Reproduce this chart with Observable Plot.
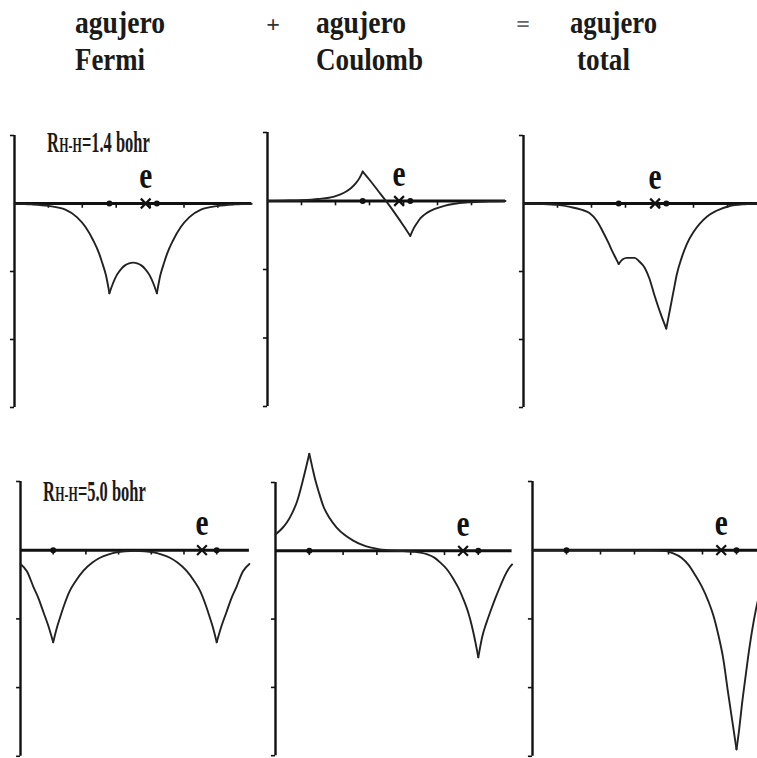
<!DOCTYPE html>
<html><head><meta charset="utf-8">
<script src="https://cdn.jsdelivr.net/npm/d3@7"></script>
<script src="https://cdn.jsdelivr.net/npm/@observablehq/plot@0.6"></script>
<style>
html,body{margin:0;padding:0;background:#fff;}
#fig{position:relative;width:757px;height:758px;overflow:hidden;background:#fff;}
</style>
</head><body><div id="fig"></div>
<script>
// ---------- data (x in bohr from bond midpoint, y in axis-tick units) ----------
const headerTop = ["agujero", "agujero", "agujero"];
const headerBottom = ["Fermi", "Coulomb", "total"];
const operators = ["+", "="];
const distances = ["1.4", "5.0"];

const xTicks = [-2.5, -1.5, -0.5, 0.5, 1.5, 2.5];
const yTicks = [1, -1, -2, -3];

const nucleiR14 = [-0.7, 0.7];
const nucleiR50 = [-2.5, 2.5];
const electronR14 = 0.37;
const electronR50 = 2.05;

const fermiR14 = [[-3.5,-0.005],[-3.0,-0.013],[-2.5,-0.035],[-2.0,-0.09],[-1.66,-0.2],[-1.4,-0.35],[-1.18,-0.54],[-1.0,-0.74],[-0.92,-0.86],[-0.8,-1.06],[-0.7,-1.32],[-0.6,-1.18],[-0.48,-1.05],[-0.35,-0.96],[-0.24,-0.91],[-0.12,-0.88],[0,-0.87],[0.12,-0.88],[0.24,-0.91],[0.35,-0.96],[0.48,-1.05],[0.6,-1.18],[0.7,-1.32],[0.8,-1.06],[0.92,-0.86],[1.0,-0.74],[1.18,-0.54],[1.4,-0.35],[1.66,-0.2],[2.0,-0.09],[2.5,-0.035],[3.0,-0.013],[3.5,-0.005]];
const fermiR14Cusps = [-0.7, 0.7];

const coulombR14 = [[-3.5,0],[-3.0,0.005],[-2.5,0.012],[-2.0,0.03],[-1.54,0.065],[-1.25,0.12],[-1.04,0.19],[-0.9,0.26],[-0.8,0.33],[-0.7,0.43],[-0.5,0.31],[-0.25,0.15],[0,-0.01],[0.25,-0.18],[0.5,-0.36],[0.7,-0.51],[0.8,-0.40],[0.9,-0.32],[1.0,-0.25],[1.2,-0.17],[1.4,-0.12],[1.7,-0.07],[2.0,-0.04],[2.4,-0.02],[3.0,-0.006],[3.5,0]];
const coulombR14Cusps = [-0.7, 0.7];

const totalR14 = [[-3.5,0],[-3.0,-0.005],[-2.5,-0.02],[-2.13,-0.05],[-1.8,-0.09],[-1.56,-0.14],[-1.35,-0.25],[-1.18,-0.40],[-1.0,-0.58],[-0.89,-0.70],[-0.8,-0.79],[-0.7,-0.89],[-0.58,-0.82],[-0.46,-0.80],[-0.23,-0.80],[-0.1,-0.85],[0.06,-0.94],[0.2,-1.10],[0.34,-1.33],[0.54,-1.63],[0.7,-1.84],[0.82,-1.53],[0.92,-1.27],[1.01,-1.04],[1.15,-0.80],[1.3,-0.60],[1.5,-0.42],[1.68,-0.30],[1.9,-0.19],[2.16,-0.11],[2.54,-0.04],[3.0,-0.01],[3.5,0]];
const totalR14Cusps = [-0.7, 0.7];

const fermiR50 = [[-3.5,-0.2],[-3.3,-0.31],[-3.1,-0.54],[-2.95,-0.7],[-2.8,-0.9],[-2.65,-1.1],[-2.5,-1.34],[-2.4,-1.15],[-2.29,-0.98],[-2.15,-0.78],[-2.0,-0.6],[-1.8,-0.44],[-1.58,-0.3],[-1.3,-0.18],[-1.07,-0.11],[-0.8,-0.06],[-0.56,-0.03],[-0.3,-0.015],[0,-0.01],[0.3,-0.015],[0.56,-0.03],[0.8,-0.06],[1.07,-0.11],[1.3,-0.18],[1.58,-0.3],[1.8,-0.44],[2.0,-0.6],[2.15,-0.78],[2.29,-0.98],[2.4,-1.15],[2.5,-1.34],[2.65,-1.1],[2.8,-0.9],[2.95,-0.7],[3.1,-0.54],[3.3,-0.31],[3.5,-0.2]];
const fermiR50Cusps = [-2.5, 2.5];

const coulombR50 = [[-3.5,0.24],[-3.3,0.33],[-3.17,0.41],[-3.0,0.56],[-2.87,0.71],[-2.68,1.05],[-2.5,1.42],[-2.4,1.20],[-2.33,1.05],[-2.2,0.83],[-2.09,0.66],[-1.9,0.48],[-1.69,0.34],[-1.45,0.23],[-1.2,0.15],[-0.95,0.09],[-0.7,0.05],[-0.45,0.025],[-0.21,0.01],[0,0],[0.3,-0.005],[0.6,-0.015],[0.97,-0.05],[1.2,-0.10],[1.37,-0.17],[1.57,-0.27],[1.76,-0.41],[1.92,-0.55],[2.06,-0.71],[2.2,-0.90],[2.31,-1.10],[2.42,-1.35],[2.5,-1.56],[2.62,-1.25],[2.73,-1.07],[2.85,-0.90],[3.0,-0.70],[3.14,-0.53],[3.28,-0.37],[3.39,-0.27],[3.5,-0.20]];
const coulombR50Cusps = [-2.5, 2.5];

const totalR50 = [[-3.5,0],[-2.5,0],[-1.0,0],[0,-0.003],[0.39,-0.01],[0.6,-0.04],[0.88,-0.11],[1.1,-0.22],[1.27,-0.35],[1.47,-0.52],[1.67,-0.74],[1.82,-0.95],[1.96,-1.22],[2.1,-1.55],[2.26,-2.10],[2.38,-2.50],[2.5,-2.90],[2.58,-2.60],[2.65,-2.29],[2.75,-1.90],[2.84,-1.56],[3.0,-1.05],[3.15,-0.69],[3.3,-0.46],[3.5,-0.28]];
const totalR50Cusps = [2.5];

// ---------- helpers ----------
const ink = "#111";
function segments(points, cusps) {
  const out = []; let seg = 0;
  points.forEach(([x, y], i) => {
    out.push({x, y, seg});
    if (cusps.includes(x) && i > 0 && i < points.length - 1) { seg++; out.push({x, y, seg}); }
  });
  return out;
}

function panel({curve, cusps, nuclei, electron, axisX, k, zeroY, u}) {
  const mL = 12, mR = 12, mT = 70, mB = 12;
  const width = mL + 7 * k + mR;
  const height = mT + 4 * u + mB;
  const left = axisX - mL, top = zeroY - u - mT;
  const svg = Plot.plot({
    width, height,
    marginLeft: mL, marginRight: mR, marginTop: mT, marginBottom: mB,
    x: {domain: [-3.5, 3.5], axis: null},
    y: {domain: [-3, 1], axis: null},
    style: {background: "transparent", overflow: "visible", position: "absolute", left: left + "px", top: top + "px", maxWidth: "none"},
    marks: [
      Plot.ruleX([-3.5], {y1: -3, y2: 1, stroke: ink, strokeWidth: 2.4}),
      Plot.ruleY(yTicks, {x1: -3.5, x2: -3.62, stroke: ink, strokeWidth: 1.6}),
      Plot.ruleY([0], {x1: -3.5, x2: 3.5, stroke: ink, strokeWidth: 3}),
      Plot.ruleX(xTicks, {y1: 0, y2: -0.07, stroke: ink, strokeWidth: 1.6}),
      Plot.line(segments(curve, cusps), {x: "x", y: "y", z: "seg", curve: "monotone-x", stroke: "#222", strokeWidth: 1.9}),
      Plot.dot(nuclei, {x: d => d, y: () => 0, r: 3, fill: ink}),
      Plot.dot([electron], {x: d => d, y: () => 0, symbol: "times", r: 4.5, stroke: ink, strokeWidth: 2.2}),
      Plot.text([electron], {x: d => d, y: () => 0, text: () => "e", dy: -15, lineAnchor: "bottom", fontSize: 38, fontFamily: "Liberation Serif", fontWeight: "bold", fill: ink})
    ]
  });
  d3.select(svg).selectAll("text").attr("textLength", 13).attr("lengthAdjust", "spacingAndGlyphs");
  return svg;
}

const fig = document.getElementById("fig");
[
  {curve: fermiR14, cusps: fermiR14Cusps, nuclei: nucleiR14, electron: electronR14, axisX: 14, k: 33.9, zeroY: 202.5, u: 68},
  {curve: coulombR14, cusps: coulombR14Cusps, nuclei: nucleiR14, electron: electronR14, axisX: 266.7, k: 34, zeroY: 200.5, u: 68.5},
  {curve: totalR14, cusps: totalR14Cusps, nuclei: nucleiR14, electron: electronR14, axisX: 522.7, k: 34, zeroY: 202.7, u: 68},
  {curve: fermiR50, cusps: fermiR50Cusps, nuclei: nucleiR50, electron: electronR50, axisX: 20, k: 32.7, zeroY: 549.3, u: 68.7},
  {curve: coulombR50, cusps: coulombR50Cusps, nuclei: nucleiR50, electron: electronR50, axisX: 275, k: 33.8, zeroY: 550, u: 68.3},
  {curve: totalR50, cusps: totalR50Cusps, nuclei: nucleiR50, electron: electronR50, axisX: 531.7, k: 34, zeroY: 549.3, u: 68.7}
].forEach(cfg => fig.appendChild(panel(cfg)));

// ---------- header and distance labels (real text) ----------
const ov = d3.create("svg").attr("width", 757).attr("height", 758)
  .style("position", "absolute").style("left", "0px").style("top", "0px").style("pointer-events", "none");
fig.appendChild(ov.node());
function addText(x, y, size, w, str, fill = "#1a1a1a") {
  return ov.append("text").attr("x", x).attr("y", y).attr("font-family", "Liberation Serif").attr("font-size", size)
    .attr("font-weight", "bold").attr("fill", fill).attr("textLength", w).attr("lengthAdjust", "spacingAndGlyphs").text(str);
}
const cols = [
  {x: 75, wTop: 90, xBottom: 75, wBottom: 70},
  {x: 316, wTop: 90, xBottom: 316, wBottom: 107},
  {x: 570, wTop: 87, xBottom: 577, wBottom: 53}
];
cols.forEach((c, i) => {
  addText(c.x, 33, 32, c.wTop, headerTop[i]);
  addText(c.xBottom, 70, 32, c.wBottom, headerBottom[i]);
});
[{x: 273, fill: "#333"}, {x: 523, fill: "#666"}].forEach((o, i) => {
  ov.append("text").attr("x", o.x).attr("y", 32).attr("text-anchor", "middle").attr("font-family", "Liberation Serif")
    .attr("font-size", 24).attr("font-weight", "bold").attr("fill", o.fill).text(operators[i]);
});
// distance labels: parts laid side by side inside a horizontally condensed group
[{x: 47, y: 152}, {x: 43, y: 501}].forEach((p, i) => {
  const g = ov.append("g");
  const parts = [{s: "R", size: 29}, {s: "H-H", size: 21}, {s: "=" + distances[i] + " bohr", size: 29}];
  let cx = 0;
  parts.forEach(part => {
    const t = g.append("text").attr("x", cx).attr("y", 0).attr("font-family", "Liberation Serif")
      .attr("font-size", part.size).attr("font-weight", "bold").attr("fill", "#1a1a1a").text(part.s);
    cx += t.node().getComputedTextLength() + 0.5;
  });
  const s = 103 / cx;
  g.attr("transform", `translate(${p.x},${p.y}) scale(${s.toFixed(3)},1)`);
});
</script></body></html>
